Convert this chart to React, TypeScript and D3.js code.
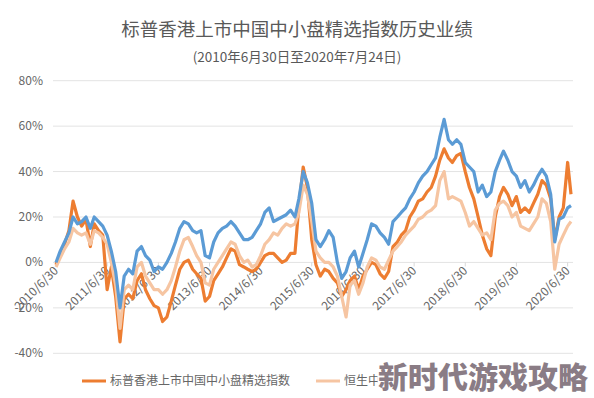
import React from "react";
import * as d3 from "d3";

// monthly readings (%), 2010/6/30 .. 2020/7/24
const spSmallCap = [
  -1, 4, 8, 14, 27, 20, 16, 19, 7, 17,
  14, 12, -12, -2, -15, -35, -16, -14, -16, -8,
  -5, -12, -16, -19, -20, -26, -24, -17, -10, -3,
  0, 1, -3, -5, -7, -17, -15, -8, -5, -2,
  2, 6, 5, -1, -2, -3, -4, -3, 0, 3,
  4, 4, 2, 0, 1, 4, 4, 25, 42, 33,
  10, -1, -6, -3, -4, -7, -9, -15, -12, -8,
  -6, -12, -6, -3, 0, -1, -5, -7, -4, 7,
  9, 12, 14, 20, 23, 27, 28, 31, 33, 38,
  45, 50, 46, 44, 47, 48, 40, 33, 28, 20,
  12, 6, 3, 20, 29, 33, 30, 25, 29, 22,
  24, 22, 26, 30, 36, 34, 28, 10, 20, 24,
  44, 30,
];
const hsChinaEnt = [
  -2, 2, 6, 9, 15, 13, 12, 13, 8, 14,
  13, 11, 8, 0, -10, -29, -12, -10, -12, -2,
  0, -6, -9, -12, -12, -14, -12, -8, -2, 5,
  10, 11, 7, 3, 0, -9, -10, -3, 0, 3,
  6, 9, 8, 3, 0, 1, -2, -1, 3, 8,
  10, 13, 12, 15, 17, 16, 17, 22, 34, 30,
  18, 5, 2, 0, 0, -2, -6, -15, -24, -10,
  -8, -14, -9, -2, 2, 1, -2, -3, 1, 5,
  7, 9, 12, 14, 16, 19, 20, 22, 23, 25,
  36, 40, 28, 29, 28, 27, 22, 16, 18, 15,
  12, 13, 10, 23, 26, 27, 25, 20, 22, 16,
  15, 14, 17, 20, 28, 26, 18, -3, 8, 12,
  16, 18,
];
const hsComposite = [
  0, 5, 9, 13, 20, 17, 18, 20, 15, 20,
  18, 16, 12, 5, -4, -20, -6, -3, -5, 5,
  7, 3, 1, -4, -2, -3, 0, 4, 9, 15,
  18, 17, 14, 13, 14, 3, 2, 9, 13, 15,
  16, 18, 16, 13, 10, 10, 11, 14, 17, 22,
  24, 18, 19, 20, 21, 23, 20, 28, 40, 35,
  26, 10, 7, 10, 14, 11, 0, -7, -4, 2,
  5, -2, 4, 10, 17, 16, 13, 11, 8, 18,
  20, 22, 24, 28, 31, 35, 38, 40, 43, 46,
  55, 63, 54, 52, 54, 52, 44, 42, 40, 31,
  34, 29, 31, 40, 45, 49, 45, 40, 38, 33,
  36, 31, 34, 38, 41, 38, 30, 9, 19, 20,
  24, 25,
];

const tickLabels = [
  "2010/6/30", "2011/6/30", "2012/6/30", "2013/6/30", "2014/6/30", "2015/6/30",
  "2016/6/30", "2017/6/30", "2018/6/30", "2019/6/30", "2020/6/30",
];
const yTicks = [80, 60, 40, 20, 0, -20, -40];

// third legend entry sits under the watermark in the source
const seriesNames = ["标普香港上市中国中小盘精选指数", "恒生中国企业指数"];
const colors = ["#ED7D31", "#F6C5A2", "#5B9BD5"];

const W = 594;
const H = 398;
const font = "'Noto Sans CJK SC', 'Noto Sans', sans-serif";

export default function App() {
  const parse = d3.timeParse("%Y/%m/%d");
  const start = parse("2010/6/30")!;
  const end = parse("2020/7/24")!;
  const n = spSmallCap.length;
  const dates = spSmallCap.map((_, i) => (i < n - 1 ? d3.timeMonth.offset(start, i) : end));

  const x = d3.scaleTime().domain([start, end]).range([56, 571]);
  const y = d3.scaleLinear().domain([-40, 80]).range([353.3, 80.7]);

  const line = d3
    .line<number>()
    .x((_, i) => x(dates[i]))
    .y((v) => y(v));

  // drawing order: orange, light, blue on top
  const drawn = [spSmallCap, hsChinaEnt, hsComposite];

  return (
    <svg
      width={W}
      height={H}
      style={{ position: "absolute", left: 0, top: 0, background: "#fff" }}
      fontFamily={font}
    >
      <defs>
        <clipPath id="legendClip">
          <rect x={0} y={360} width={378} height={38} />
        </clipPath>
      </defs>
      <text x={297} y={36} textAnchor="middle" fontSize={18.5} fill="#595959" fontFamily={font}>
        标普香港上市中国中小盘精选指数历史业绩
      </text>
      <text x={297} y={62} textAnchor="middle" fontSize={13.5} fill="#595959" fontFamily={font}>
        (2010年6月30日至2020年7月24日)
      </text>

      {yTicks.map((t) => (
        <g key={t}>
          <line x1={53} x2={573} y1={y(t)} y2={y(t)} stroke="#E3E3E3" strokeWidth={1} />
          <text x={43} y={y(t) + 4} textAnchor="end" fontSize={12} fill="#666">
            {t}%
          </text>
        </g>
      ))}

      {tickLabels.map((lbl) => {
        const tx = x(parse(lbl)!);
        return (
          <g key={lbl}>
            <line x1={tx} x2={tx} y1={y(0)} y2={y(0) + 4} stroke="#D9D9D9" />
            <text
              transform={`translate(${tx + 3},${y(0) + 9}) rotate(-45)`}
              textAnchor="end"
              fontSize={12}
              fill="#666"
            >
              {lbl}
            </text>
          </g>
        );
      })}

      {drawn.map((s, k) => (
        <path
          key={k}
          d={line(s) || ""}
          fill="none"
          stroke={colors[k]}
          strokeWidth={3.2}
          strokeLinejoin="round"
        />
      ))}

      {/* legend */}
      <g clipPath="url(#legendClip)">
        {[82, 316].map((lx, k) => (
          <g key={k}>
            <line x1={lx} x2={lx + 24} y1={381} y2={381} stroke={colors[k]} strokeWidth={3} />
            <text x={lx + 28} y={385} fontSize={12} fill="#666">
              {k === 1 ? "恒生中" : seriesNames[k]}
            </text>
          </g>
        ))}
      </g>

      {/* watermark */}
      <text
        x={588}
        y={388}
        textAnchor="end"
        fontSize={30}
        fontWeight={900}
        fill="#8A7C85"
        stroke="#fff"
        strokeWidth={3}
        paintOrder="stroke"
      >
        新时代游戏攻略
      </text>
    </svg>
  );
}
